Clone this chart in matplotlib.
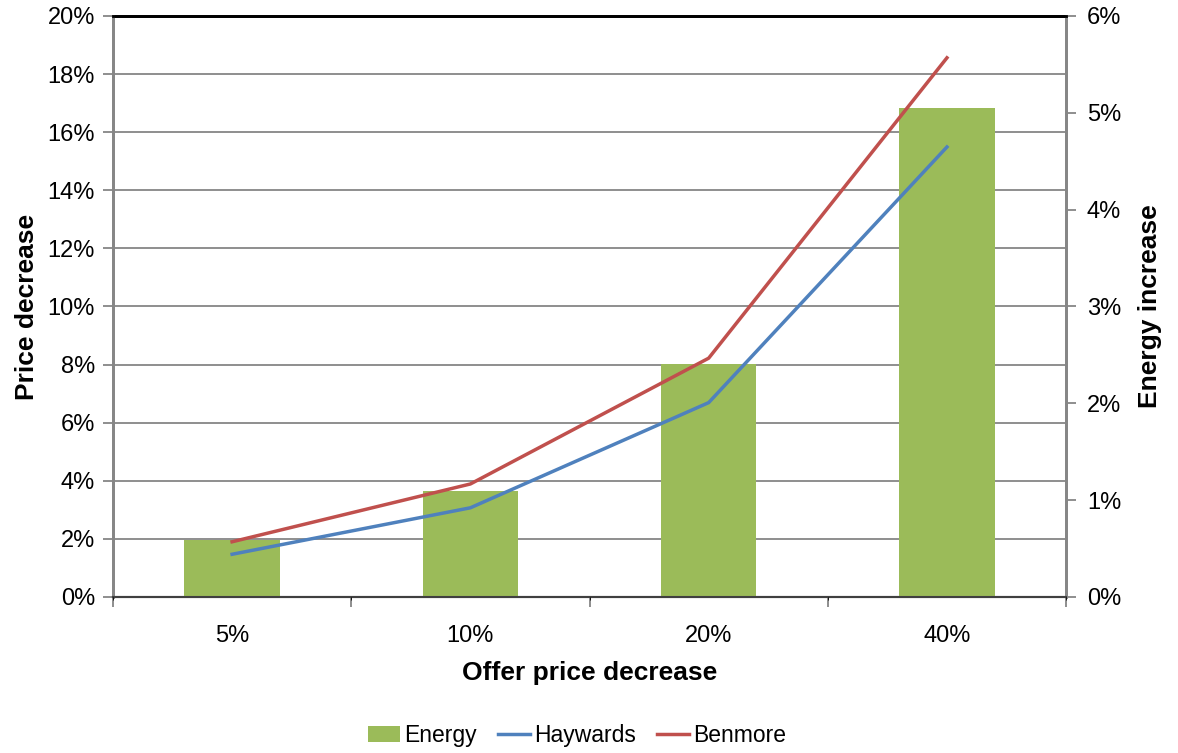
import matplotlib.pyplot as plt
import numpy as np

plt.rcParams['font.family'] = ['Liberation Sans', 'DejaVu Sans']

categories = ['5%', '10%', '20%', '40%']
energy = [0.59, 1.09, 2.41, 5.05]        # right axis, %
haywards = [1.47, 3.07, 6.69, 15.49]     # left axis, %
benmore = [1.90, 3.89, 8.22, 18.56]      # left axis, %

green = '#9BBB59'
blue = '#4F81BD'
red = '#C0504D'
grey = '#868686'

fig = plt.figure(figsize=(11.78, 7.53), dpi=100)
ax = fig.add_axes([0.0959, 0.2072, 0.8091, 0.7716])
ax2 = ax.twinx()
ax3 = fig.add_axes(ax.get_position(), sharex=ax, sharey=ax, frameon=False)

x = np.arange(len(categories))

# grid on the bottom axes
ax.set_ylim(0, 20)
ax.set_yticks(np.arange(0, 21, 2))
ax.set_yticklabels(['%d%%' % v for v in range(0, 21, 2)])
ax.yaxis.grid(True, color=grey, linewidth=1.3)
ax.set_axisbelow(True)

# bars on the right axis
ax2.bar(x, energy, width=0.4, color=green, label='Energy', zorder=2)
ax2.set_ylim(0, 6)
ax2.set_yticks(range(7))
ax2.set_yticklabels(['%d%%' % v for v in range(7)])
ax2.patch.set_visible(False)

# lines on top, sharing the left scale
ax3.plot(x, haywards, color=blue, linewidth=2.5, label='Haywards')
ax3.plot(x, benmore, color=red, linewidth=2.5, label='Benmore')
ax3.tick_params(left=False, bottom=False, labelleft=False, labelbottom=False)
ax3.patch.set_visible(False)

ax.set_xlim(-0.5, len(categories) - 0.5)
ax.set_xticks(x)
ax.set_xticklabels(categories)
ax.set_xticks(np.arange(-0.5, len(categories)), minor=True)
ax.tick_params(axis='x', which='major', length=0, pad=20, labelsize=17)
ax.tick_params(axis='x', which='minor', length=7, color=grey, width=1.3)
ax.tick_params(axis='y', length=7, color=grey, width=1.3, labelsize=17, pad=6)
ax2.tick_params(axis='y', length=7, color=grey, width=1.3, labelsize=17, pad=8)

for a in (ax, ax2):
    a.spines['top'].set_color('black')
    a.spines['top'].set_linewidth(2)
    a.spines['left'].set_color(grey)
    a.spines['left'].set_linewidth(2)
    a.spines['right'].set_color(grey)
    a.spines['right'].set_linewidth(2)
    a.spines['bottom'].set_color('#404040')
    a.spines['bottom'].set_linewidth(1.5)

ax.set_xlabel('Offer price decrease', fontsize=19, fontweight='bold', labelpad=10)
ax.set_ylabel('Price decrease', fontsize=19, fontweight='bold', labelpad=6)
ax2.set_ylabel('Energy increase', fontsize=19, fontweight='bold', labelpad=12)

h2, l2 = ax2.get_legend_handles_labels()
h3, l3 = ax3.get_legend_handles_labels()
fig.legend(h2 + h3, l2 + l3, loc='lower center', bbox_to_anchor=(0.49, -0.02),
           ncol=3, frameon=False, fontsize=16.5, handlelength=1.4,
           handletextpad=0.2, columnspacing=0.9)

fig.savefig('out.png', dpi=100)
